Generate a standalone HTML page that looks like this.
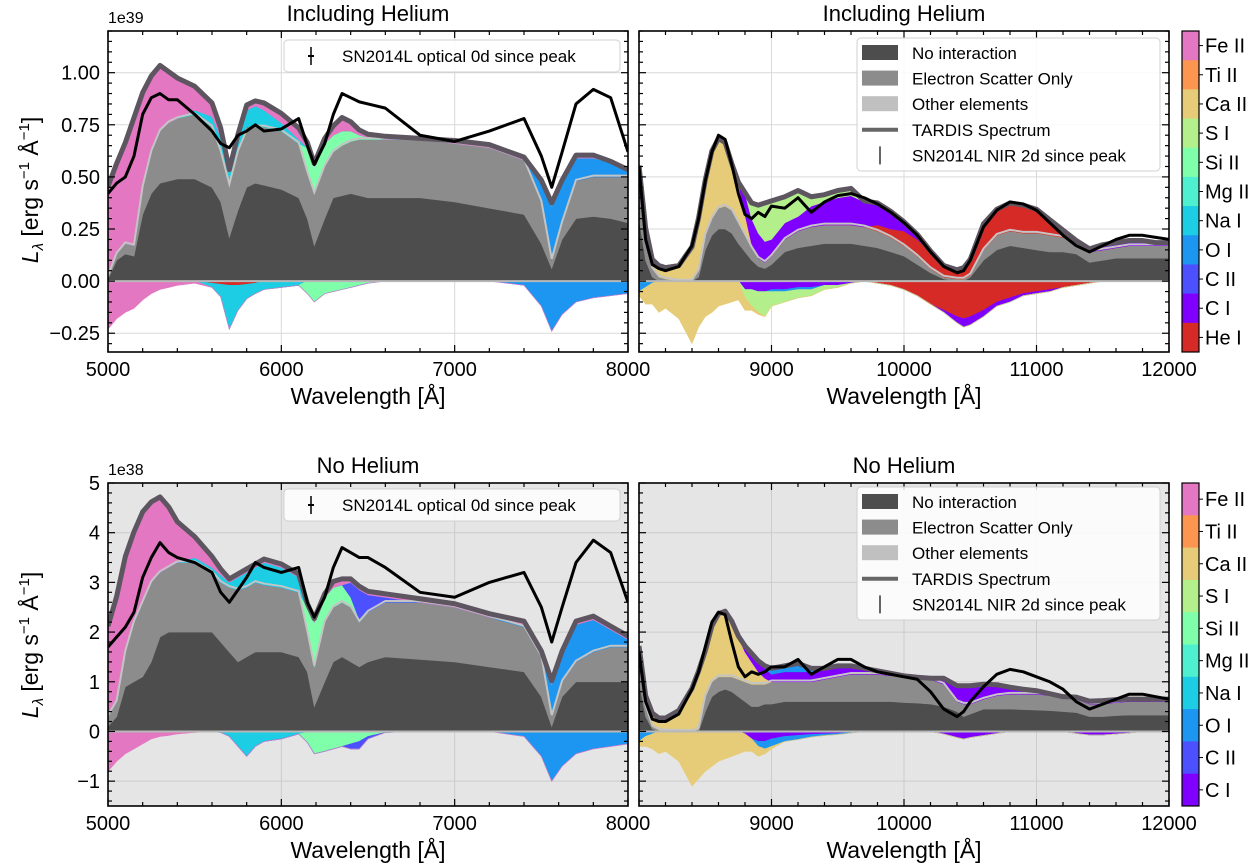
<!DOCTYPE html>
<html><head><meta charset="utf-8">
<style>
html,body{margin:0;padding:0;background:#fff;}
svg{display:block;font-family:"Liberation Sans","DejaVu Sans",sans-serif;}
</style></head>
<body>
<svg id="fig" width="1253" height="868" viewBox="0 0 1253 868" xmlns="http://www.w3.org/2000/svg"></svg>
<script>
// ---------- data ----------
const wlOpt = [5000,5050,5100,5150,5200,5250,5300,5350,5400,5500,5600,5650,5700,5750,5800,5850,5900,6000,6100,6150,6190,6250,6300,6350,6400,6450,6500,6600,6800,7000,7200,7400,7500,7560,7620,7700,7800,7900,8000];
const wlNir = [8000,8050,8100,8150,8200,8300,8400,8450,8500,8550,8600,8650,8700,8750,8800,8850,8900,8950,9000,9100,9200,9300,9400,9500,9600,9700,9800,9900,10000,10100,10200,10300,10400,10450,10500,10600,10700,10800,10900,11000,11100,11200,11300,11400,11500,11600,11700,11800,11900,12000];

// Panel A: Including Helium, optical (1e39)
const noIntA = [0.01,0.10,0.13,0.12,0.32,0.42,0.47,0.48,0.49,0.49,0.45,0.38,0.21,0.34,0.45,0.47,0.46,0.44,0.40,0.30,0.17,0.30,0.40,0.41,0.42,0.41,0.40,0.40,0.40,0.38,0.35,0.32,0.18,0.06,0.20,0.30,0.31,0.30,0.28];
const escatA = [0.01,0.03,0.05,0.05,0.13,0.20,0.25,0.28,0.29,0.31,0.29,0.24,0.25,0.28,0.27,0.27,0.28,0.28,0.26,0.22,0.25,0.25,0.22,0.24,0.25,0.27,0.28,0.28,0.28,0.28,0.29,0.26,0.20,0.04,0.08,0.18,0.19,0.20,0.22];
const heA = [0,0,0,0,0,0,0,0,0,0,0,0.02,0.03,0.02,0.02,0,0,0,0,0,0,0,0,0,0,0,0,0,0,0,0,0,0,0,0,0,0,0,0];
const oA = [0,0,0,0,0,0,0,0,0,0,0,0,0,0,0,0,0,0,0,0,0,0,0,0,0,0,0,0,0,0,0,0,0.09,0.26,0.19,0.11,0.09,0.07,0.03];
const siA = [0,0,0,0,0,0,0,0,0,0,0,0,0,0,0,0,0,0,0,0.12,0.13,0.11,0.08,0.07,0.05,0.02,0.01,0,0,0,0,0,0,0,0,0,0,0,0];
const naA = [0,0,0,0,0,0,0,0,0,0.02,0.05,0.05,0.03,0.05,0.08,0.10,0.08,0.04,0.02,0,0,0,0,0,0,0,0,0,0,0,0,0,0,0,0,0,0,0,0];
const feA = [0.43,0.43,0.48,0.61,0.45,0.36,0.31,0.24,0.19,0.11,0.06,0.04,0.01,0.01,0.02,0.02,0.03,0.04,0.05,0.02,0.01,0.02,0.04,0.06,0.04,0.02,0.01,0.01,0,0.01,0.01,0.01,0.01,0.01,0.01,0.01,0.01,0,0];
const heAbsA = [0,0,0,0,0,0,0,0,0,0,0.01,0.015,0.02,0.02,0.015,0.01,0,0,0,0,0,0,0,0,0,0,0,0,0,0,0,0,0,0,0,0,0,0,0];
const naAbsA = [0,0,0,0,0,0,0,0,0,0,0.02,0.06,0.21,0.12,0.07,0.05,0.04,0.03,0.02,0,0,0,0,0,0,0,0,0,0,0,0,0,0,0,0,0,0,0,0];
const siAbsA = [0,0,0,0,0,0,0,0,0,0,0,0,0,0,0,0,0,0,0,0.06,0.10,0.06,0.05,0.04,0.03,0.02,0.01,0,0,0,0,0,0,0,0,0,0,0,0];
const oAbsA = [0,0,0,0,0,0,0,0,0,0,0,0,0,0,0,0,0,0,0,0,0,0,0,0,0,0,0,0,0,0,0,0.02,0.12,0.24,0.16,0.10,0.08,0.07,0.06];
const feAbsA = [0.23,0.18,0.15,0.13,0.09,0.06,0.04,0.03,0.02,0.01,0,0,0,0,0,0,0,0,0,0,0,0,0,0,0,0,0,0,0,0,0,0,0,0,0,0,0,0,0];
const obsA = [0.42,0.47,0.50,0.60,0.80,0.88,0.90,0.87,0.87,0.80,0.72,0.66,0.64,0.70,0.72,0.75,0.72,0.73,0.78,0.65,0.56,0.66,0.80,0.90,0.88,0.86,0.85,0.83,0.70,0.67,0.72,0.78,0.60,0.45,0.62,0.85,0.92,0.88,0.62];

// Panel B: Including Helium, NIR (1e39)
const noIntB = [0.30,0.10,0.02,0,0,0,0,0.02,0.15,0.22,0.25,0.25,0.23,0.18,0.14,0.10,0.07,0.06,0.08,0.14,0.16,0.17,0.18,0.18,0.18,0.17,0.16,0.14,0.12,0.08,0.04,0.01,0,0,0.02,0.10,0.15,0.17,0.16,0.15,0.14,0.14,0.13,0.09,0.10,0.11,0.11,0.11,0.11,0.11];
const escatB = [0.20,0.12,0.04,0.02,0.01,0,0,0.03,0.07,0.08,0.10,0.11,0.11,0.10,0.08,0.06,0.04,0.03,0.04,0.06,0.08,0.09,0.09,0.09,0.09,0.09,0.08,0.07,0.05,0.04,0.02,0.01,0.01,0.01,0.01,0.05,0.07,0.07,0.07,0.08,0.08,0.07,0.06,0.05,0.05,0.05,0.06,0.06,0.06,0.06];
const caB = [0.03,0.02,0.04,0.05,0.05,0.07,0.16,0.25,0.26,0.32,0.33,0.30,0.22,0.19,0.10,0.02,0,0,0,0,0,0,0,0,0,0,0,0,0,0,0,0,0,0,0,0,0,0,0,0,0,0,0,0,0,0,0,0,0,0];
const heB = [0,0,0,0,0,0,0,0,0,0,0,0,0,0,0,0,0,0,0,0,0,0,0,0,0,0,0.03,0.04,0.07,0.08,0.08,0.05,0.04,0.05,0.07,0.12,0.12,0.13,0.13,0.11,0.07,0.03,0,0,0,0,0,0,0,0];
const ciB = [0,0,0,0,0,0,0,0,0,0,0,0,0,0,0.10,0.12,0.12,0.10,0.08,0.08,0.07,0.10,0.11,0.13,0.14,0.12,0.10,0.08,0.04,0.02,0,0,0,0,0,0,0,0,0,0,0,0,0,0.01,0.02,0.02,0.02,0.02,0.01,0.01];
const sB = [0,0,0,0,0,0,0,0,0,0,0,0,0,0,0,0.07,0.13,0.18,0.18,0.12,0.12,0.04,0.03,0.03,0.03,0,0,0,0,0,0,0,0,0,0,0,0,0,0,0,0,0,0,0,0,0,0,0,0,0];
const oB = [0.02,0.01,0,0,0,0,0,0,0,0,0,0,0,0,0,0,0,0,0,0,0,0,0,0,0,0,0,0,0,0,0,0,0,0,0,0,0,0,0,0,0,0,0,0,0,0,0,0,0,0];
const heAbsB = [0,0,0,0,0,0,0,0,0,0,0,0,0,0,0,0,0,0,0,0,0,0,0,0,0,0,0.01,0.02,0.04,0.07,0.11,0.14,0.17,0.18,0.17,0.14,0.10,0.08,0.06,0.05,0.04,0.03,0.02,0.01,0,0,0,0,0,0];
const ciAbsB = [0,0,0,0,0,0,0,0,0,0,0,0,0,0,0.04,0.04,0.05,0.05,0.04,0.04,0.03,0.03,0.02,0.02,0.01,0,0,0,0,0,0,0.01,0.03,0.04,0.04,0.03,0.02,0.02,0.01,0.01,0.01,0,0,0,0,0,0,0,0,0];
const oAbsB = [0.05,0.03,0.01,0,0,0,0,0,0,0,0,0,0,0,0,0,0,0,0.01,0.01,0.01,0.01,0,0,0,0,0,0,0,0,0,0,0,0,0,0,0,0,0,0,0,0,0,0,0,0,0,0,0,0];
const sAbsB = [0,0,0,0,0,0,0,0,0,0,0,0,0,0,0.04,0.08,0.10,0.12,0.07,0.05,0.04,0.03,0.02,0.01,0,0,0,0,0,0,0,0,0,0,0,0,0,0,0,0,0,0,0,0,0,0,0,0,0,0];
const caAbsB = [0.02,0.08,0.10,0.15,0.13,0.18,0.30,0.22,0.17,0.15,0.12,0.11,0.10,0.09,0.06,0.02,0.01,0,0,0,0,0,0,0,0,0,0,0,0,0,0,0,0,0,0,0,0,0,0,0,0,0,0,0,0,0,0,0,0,0];
const obsB = [0.55,0.20,0.08,0.06,0.05,0.07,0.17,0.30,0.48,0.62,0.70,0.68,0.56,0.42,0.32,0.30,0.33,0.31,0.36,0.35,0.40,0.33,0.38,0.41,0.42,0.40,0.37,0.33,0.28,0.22,0.14,0.07,0.04,0.05,0.10,0.26,0.34,0.38,0.37,0.34,0.28,0.22,0.17,0.14,0.17,0.20,0.22,0.22,0.21,0.20];

// Panel C: No Helium, optical (1e38)
const noIntC = [0.1,0.3,0.9,1.0,1.1,1.4,1.9,2.0,2.0,2.0,2.0,1.8,1.6,1.4,1.5,1.6,1.6,1.6,1.5,1.2,0.5,1.0,1.4,1.5,1.4,1.3,1.4,1.5,1.45,1.4,1.3,1.2,0.7,0.1,0.7,1.0,1.0,1.0,1.0];
const escatC = [0.2,0.3,0.7,1.2,1.5,1.6,1.3,1.3,1.4,1.4,1.2,1.2,1.3,1.45,1.4,1.4,1.35,1.3,1.3,0.8,0.8,1.2,1.1,1.1,1.1,0.9,1.0,1.1,1.15,1.1,1.0,0.9,0.8,0.2,0.3,0.4,0.6,0.7,0.7];
const oC = [0,0,0,0,0,0,0,0,0,0,0,0,0,0,0,0,0,0,0,0,0,0,0,0,0,0,0,0,0,0,0,0.05,0.05,0.65,0.55,0.75,0.65,0.35,0.15];
const siC = [0,0,0,0,0,0,0,0,0,0,0,0,0,0,0,0,0,0,0,0.5,0.9,0.5,0.4,0.35,0.2,0.05,0,0,0,0,0,0,0,0,0,0,0,0,0];
const c2C = [0,0,0,0,0,0,0,0,0,0,0,0,0,0,0,0,0,0,0,0,0,0,0,0,0.3,0.6,0.35,0.1,0,0,0,0,0,0,0,0,0,0,0];
const naC = [0,0,0,0,0,0,0,0,0,0.1,0.1,0.15,0.1,0.25,0.3,0.3,0.45,0.4,0.3,0,0,0,0,0,0,0,0,0,0,0,0,0,0,0,0,0,0,0,0];
const feC = [1.8,2.1,1.9,1.8,1.8,1.6,1.5,1.2,0.8,0.4,0.2,0.1,0.05,0.05,0.05,0.05,0.05,0.05,0.05,0.05,0.05,0.05,0.1,0.1,0.05,0.05,0.05,0.05,0.05,0.05,0.05,0.05,0.05,0.05,0.05,0.05,0.05,0.05,0.05];
const naAbsC = [0,0,0,0,0,0,0,0,0,0,0,0.02,0.1,0.3,0.5,0.3,0.2,0.15,0.05,0.02,0,0,0,0,0,0,0,0,0,0,0,0,0,0,0,0,0,0,0];
const siAbsC = [0,0,0,0,0,0,0,0,0,0,0,0,0,0,0,0,0,0,0,0.2,0.45,0.4,0.35,0.3,0.25,0.2,0.1,0.02,0,0,0,0,0,0,0,0,0,0,0];
const c2AbsC = [0,0,0,0,0,0,0,0,0,0,0,0,0,0,0,0,0,0,0,0,0,0,0,0,0.1,0.15,0.05,0,0,0,0,0,0,0,0,0,0,0,0];
const oAbsC = [0,0,0,0,0,0,0,0,0,0,0,0,0,0,0,0,0,0,0,0,0,0,0,0,0,0,0,0,0,0,0,0.1,0.5,1.0,0.7,0.45,0.35,0.3,0.25];
const feAbsC = [0.8,0.6,0.45,0.35,0.25,0.15,0.1,0.08,0.05,0.02,0,0,0,0,0,0,0,0,0,0,0,0,0,0,0,0,0,0,0,0,0,0,0,0,0,0,0,0,0];
const obsC = [1.7,1.9,2.1,2.4,3.1,3.5,3.8,3.6,3.5,3.4,3.2,2.8,2.6,2.85,3.1,3.4,3.3,3.2,3.3,2.6,2.3,2.7,3.3,3.7,3.6,3.5,3.5,3.3,2.8,2.7,3.0,3.2,2.5,1.8,2.5,3.4,3.85,3.6,2.6];

// Panel D: No Helium, NIR (1e38)
const noIntD = [1.0,0.3,0.05,0,0,0,0,0,0.4,0.7,0.8,0.85,0.8,0.7,0.6,0.5,0.5,0.55,0.55,0.6,0.6,0.6,0.6,0.6,0.6,0.6,0.6,0.6,0.58,0.57,0.55,0.5,0.4,0.3,0.35,0.45,0.45,0.45,0.44,0.43,0.42,0.4,0.38,0.3,0.3,0.32,0.33,0.33,0.33,0.33];
const escatD = [0.6,0.2,0.05,0.03,0.01,0,0,0.05,0.3,0.3,0.3,0.25,0.3,0.35,0.4,0.45,0.45,0.4,0.45,0.4,0.4,0.4,0.45,0.5,0.55,0.55,0.55,0.52,0.52,0.5,0.5,0.45,0.2,0.25,0.2,0.2,0.27,0.3,0.31,0.32,0.3,0.28,0.27,0.25,0.25,0.26,0.27,0.27,0.27,0.27];
const caD = [0.05,0.15,0.25,0.22,0.24,0.4,0.85,1.15,0.9,1.1,1.25,1.3,1.1,0.85,0.6,0.45,0.25,0.12,0,0,0,0,0,0,0,0,0,0,0,0,0,0,0,0,0,0,0,0,0,0,0,0,0,0,0,0,0,0,0,0];
const ciD = [0,0,0,0,0,0,0,0,0,0,0,0,0,0,0.1,0.15,0.2,0.2,0.15,0.2,0.2,0.2,0.2,0.2,0.15,0.1,0.05,0.03,0,0,0,0.1,0.3,0.35,0.35,0.28,0.2,0.12,0.08,0.05,0.02,0,0.02,0.04,0.05,0.04,0.03,0.03,0.03,0.03];
const oD = [0.05,0.05,0,0,0,0,0,0,0,0,0,0,0,0,0,0,0,0.03,0.1,0.1,0.15,0.05,0,0,0,0,0,0,0,0,0,0,0,0,0,0,0,0,0,0,0,0,0,0,0,0,0,0,0,0];
const ciAbsD = [0,0,0,0,0,0,0,0,0,0,0,0,0,0,0.05,0.15,0.2,0.2,0.15,0.1,0.08,0.06,0.05,0.04,0.02,0,0,0,0,0,0,0.05,0.12,0.15,0.12,0.08,0.04,0,0,0,0,0,0.04,0.07,0.07,0.05,0.03,0,0,0];
const oAbsD = [0.2,0.1,0.05,0,0,0,0,0,0,0,0,0,0,0,0,0,0.1,0.15,0.15,0.1,0.08,0.05,0.03,0.02,0.01,0,0,0,0,0,0,0,0,0,0,0,0,0,0,0,0,0,0,0,0,0,0,0,0,0];
const caAbsD = [0.1,0.2,0.3,0.45,0.4,0.6,1.1,0.95,0.8,0.7,0.6,0.55,0.5,0.45,0.35,0.25,0.2,0.1,0.05,0,0,0,0,0,0,0,0,0,0,0,0,0,0,0,0,0,0,0,0,0,0,0,0,0,0,0,0,0,0,0];
const obsD = [1.6,0.6,0.25,0.2,0.2,0.35,0.85,1.2,1.7,2.2,2.4,2.35,1.8,1.3,1.1,1.2,1.15,1.2,1.3,1.3,1.45,1.15,1.3,1.45,1.45,1.3,1.2,1.15,1.1,1.05,0.8,0.45,0.3,0.4,0.6,0.9,1.15,1.25,1.2,1.1,1.0,0.85,0.6,0.45,0.55,0.65,0.75,0.75,0.7,0.65];

const yTicksTop = [-0.25,0,0.25,0.5,0.75,1.0];
const yTickLabelsTop = ["\u22120.25","0.00","0.25","0.50","0.75","1.00"];
const yTicksBot = [-1,0,1,2,3,4,5];
const yTickLabelsBot = ["\u22121","0","1","2","3","4","5"];
const xTicksOpt = [5000,6000,7000,8000];
const xTicksNir = [9000,10000,11000,12000];
const cbarTop = ["Fe II","Ti II","Ca II","S I","Si II","Mg II","Na I","O I","C II","C I","He I"];
const cbarBot = ["Fe II","Ti II","Ca II","S I","Si II","Mg II","Na I","O I","C II","C I"];

// ---------- rendering ----------
const COL = {"Fe II":"#e377c2","Ti II":"#fb9550","Ca II":"#e6cc78","S I":"#b3f08c","Si II":"#80ffaa","Mg II":"#4ff0d0","Na I":"#1ccde3","O I":"#1c96f0","C II":"#4d50ff","C I":"#8000ff","He I":"#d62a27"};
const NS="http://www.w3.org/2000/svg";
const svg=document.getElementById('fig');
function el(tag,attrs,parent){const e=document.createElementNS(NS,tag);for(const k in attrs)e.setAttribute(k,attrs[k]);(parent||svg).appendChild(e);return e;}
function txt(s,attrs,parent){const t=el('text',attrs,parent);t.textContent=s;return t;}

function drawPanel(p){
  const g=el('g',{});
  
  
  const X=w=>p.x0+(w-p.w0)/(p.w1-p.w0)*(p.x1-p.x0);
  const Y=v=>p.yTop+(p.ymax-v)/(p.ymax-p.ymin)*(p.yBot-p.yTop);
  const bg=el('rect',{x:p.x0,y:p.yTop,width:p.x1-p.x0,height:p.yBot-p.yTop,fill:p.bg},g);
  
  
  const cid='clip-'+p.name;
  const cp=el('clipPath',{id:cid},g);el('rect',{x:p.x0,y:p.yTop,width:p.x1-p.x0,height:p.yBot-p.yTop},cp);
  // grid
  const gridC=p.bg==='#ffffff'?'#d9d9d9':'#cccccc';
  p.xt.forEach(w=>{if(w>p.w0&&w<p.w1)el('line',{x1:X(w),x2:X(w),y1:p.yTop,y2:p.yBot,stroke:gridC,'stroke-width':1},g);});
  p.yt.forEach(v=>el('line',{x1:p.x0,x2:p.x1,y1:Y(v),y2:Y(v),stroke:gridC,'stroke-width':1},g));
  const pg=el('g',{'clip-path':'url(#'+cid+')'},g);
  const wl=p.wl;
  function band(lo,hi,fill,name){
    let d='M'+wl.map((w,i)=>X(w).toFixed(1)+','+Y(hi[i]).toFixed(1)).join('L');
    for(let i=wl.length-1;i>=0;i--)d+='L'+X(wl[i]).toFixed(1)+','+Y(lo[i]).toFixed(1);
    const a=el('path',{d:d+'Z',fill:fill,stroke:fill,'stroke-width':0.6},pg);
    
    
  }
  const zero=wl.map(()=>0);
  let cur=p.noInt.slice();
  band(zero,cur,'#4d4d4d','no-interaction-area');
  let nxt=cur.map((v,i)=>v+p.escat[i]);
  band(cur,nxt,'#8c8c8c','electron-scatter-area');cur=nxt;
  const greyTop=cur.slice();
  p.em.forEach(([arr,nm])=>{const n2=cur.map((v,i)=>v+arr[i]);band(cur,n2,COL[nm],'emission-'+nm.toLowerCase().replace(' ','-'));cur=n2;});
  let neg=zero.slice();
  p.ab.forEach(([arr,nm])=>{const n2=neg.map((v,i)=>v-arr[i]);band(n2,neg,COL[nm],'absorption-'+nm.toLowerCase().replace(' ','-'));neg=n2;});
  const oth=el('polyline',{points:wl.map((w,i)=>X(w)+','+Y(greyTop[i]+0.004*(p.ymax-p.ymin))).join(' '),fill:'none',stroke:'#c4c4c4','stroke-width':2},pg);
  
  
  el('line',{x1:p.x0,x2:p.x1,y1:Y(0),y2:Y(0),stroke:'#b8b8b8','stroke-width':2},pg);
  const tl=el('polyline',{points:wl.map((w,i)=>X(w)+','+(Y(cur[i])-1)).join(' '),fill:'none',stroke:'#5d5560','stroke-width':5,'stroke-linejoin':'round'},pg);
  
  
  const ol=el('polyline',{points:wl.map((w,i)=>X(w)+','+Y(p.obs[i])).join(' '),fill:'none',stroke:'#000','stroke-width':3,'stroke-linejoin':'round'},pg);
  
  
  // frame
  el('rect',{x:p.x0,y:p.yTop,width:p.x1-p.x0,height:p.yBot-p.yTop,fill:'none',stroke:'#000','stroke-width':1.6},g);
  // ticks
  for(let w=p.w0;w<=p.w1;w+=200){const L=(w%1000===0)?7:4;const x=X(w);
    el('line',{x1:x,x2:x,y1:p.yBot,y2:p.yBot-L,stroke:'#000','stroke-width':1.2},g);
    el('line',{x1:x,x2:x,y1:p.yTop,y2:p.yTop+L,stroke:'#000','stroke-width':1.2},g);}
  const mstep=p.minor;
  for(let v=Math.ceil(p.ymin/mstep)*mstep;v<=p.ymax+1e-9;v+=mstep){const isMaj=p.yt.some(t=>Math.abs(t-v)<1e-6);const L=isMaj?7:4;const y=Y(v);
    el('line',{x1:p.x0,x2:p.x0+L,y1:y,y2:y,stroke:'#000','stroke-width':1.2},g);
    el('line',{x1:p.x1,x2:p.x1-L,y1:y,y2:y,stroke:'#000','stroke-width':1.2},g);}
  p.xt.forEach(w=>{const t=txt(String(w),{x:X(w),y:p.yBot+24,'font-size':20,'text-anchor':'middle',fill:'#000'},g);
    
    });
  if(p.ylab){p.yt.forEach((v,i)=>{const t=txt(p.ylab[i],{x:p.x0-8,y:Y(v)+7,'font-size':20,'text-anchor':'end',fill:'#000'},g);
    
    });
    const off=txt(p.offset,{x:p.x0,y:p.yTop-8,'font-size':16,fill:'#000'},g);
    
    }
  const ti=txt(p.title,{x:(p.x0+p.x1)/2,y:p.yTop-10,'font-size':22,'text-anchor':'middle',fill:'#000'},g);
  
  
  const xl=txt('Wavelength [Å]',{x:(p.x0+p.x1)/2,y:p.yBot+52,'font-size':23,'text-anchor':'middle',fill:'#000'},g);
  
  
  return {X,Y};
}

const panels=[
 {name:'panel-helium-optical',x0:108,x1:628,w0:5000,w1:8000,yTop:31,yBot:352,ymin:-0.34,ymax:1.2,minor:0.05,bg:'#ffffff',wl:wlOpt,
  noInt:noIntA,escat:escatA,em:[[heA,'He I'],[oA,'O I'],[siA,'Si II'],[naA,'Na I'],[feA,'Fe II']],
  ab:[[heAbsA,'He I'],[naAbsA,'Na I'],[siAbsA,'Si II'],[oAbsA,'O I'],[feAbsA,'Fe II']],obs:obsA,xt:xTicksOpt,yt:yTicksTop,ylab:yTickLabelsTop,offset:'1e39',title:'Including Helium'},
 {name:'panel-helium-nir',x0:639,x1:1169,w0:8000,w1:12000,yTop:31,yBot:352,ymin:-0.34,ymax:1.2,minor:0.05,bg:'#ffffff',wl:wlNir,
  noInt:noIntB,escat:escatB,em:[[caB,'Ca II'],[heB,'He I'],[ciB,'C I'],[sB,'S I'],[oB,'O I']],
  ab:[[heAbsB,'He I'],[ciAbsB,'C I'],[oAbsB,'O I'],[sAbsB,'S I'],[caAbsB,'Ca II']],obs:obsB,xt:xTicksNir,yt:yTicksTop,ylab:null,title:'Including Helium'},
 {name:'panel-nohelium-optical',x0:108,x1:628,w0:5000,w1:8000,yTop:483,yBot:806,ymin:-1.5,ymax:5,minor:0.2,bg:'#e5e5e5',wl:wlOpt,
  noInt:noIntC,escat:escatC,em:[[oC,'O I'],[siC,'Si II'],[c2C,'C II'],[naC,'Na I'],[feC,'Fe II']],
  ab:[[naAbsC,'Na I'],[siAbsC,'Si II'],[c2AbsC,'C II'],[oAbsC,'O I'],[feAbsC,'Fe II']],obs:obsC,xt:xTicksOpt,yt:yTicksBot,ylab:yTickLabelsBot,offset:'1e38',title:'No Helium'},
 {name:'panel-nohelium-nir',x0:639,x1:1169,w0:8000,w1:12000,yTop:483,yBot:806,ymin:-1.5,ymax:5,minor:0.2,bg:'#e5e5e5',wl:wlNir,
  noInt:noIntD,escat:escatD,em:[[caD,'Ca II'],[ciD,'C I'],[oD,'O I']],
  ab:[[ciAbsD,'C I'],[oAbsD,'O I'],[caAbsD,'Ca II']],obs:obsD,xt:xTicksNir,yt:yTicksBot,ylab:null,title:'No Helium'}
];
panels.forEach(drawPanel);

// y-axis titles
[[190],[645]].forEach(([cy])=>{
  const t=el('text',{x:0,y:0,'font-size':23,'text-anchor':'middle',fill:'#000',transform:'translate(38,'+cy+') rotate(-90)'});
  
  
  const a=el('tspan',{'font-style':'italic'},t);a.textContent='L';
  const b=el('tspan',{'font-style':'italic','font-size':15,dy:5},t);b.textContent='λ';
  const c=el('tspan',{dy:-5},t);c.textContent=' [erg s';
  const d=el('tspan',{'font-size':15,dy:-9},t);d.textContent='−1';
  const e=el('tspan',{dy:9},t);e.textContent=' Å';
  const f=el('tspan',{'font-size':15,dy:-9},t);f.textContent='−1';
  const h=el('tspan',{dy:9},t);h.textContent=']';
});

// legends
function obsLegend(y){
  const g=el('g',{});
  
  
  el('rect',{x:284,y:y,width:336,height:32,rx:4,fill:'#fff','fill-opacity':0.85,stroke:'#d0d0d0'},g);
  el('line',{x1:311,x2:311,y1:y+7,y2:y+25,stroke:'#000','stroke-width':1.5},g);
  el('line',{x1:308,x2:314,y1:y+16,y2:y+16,stroke:'#000','stroke-width':2},g);
  txt('SN2014L optical 0d since peak',{x:342,y:y+22,'font-size':17,fill:'#000'},g);
}
obsLegend(40);obsLegend(489);
function bigLegend(y){
  const g=el('g',{});
  
  
  el('rect',{x:857,y:y,width:303,height:133,rx:4,fill:'#fff','fill-opacity':0.85,stroke:'#d0d0d0'},g);
  const rows=[['No interaction','#4d4d4d','box'],['Electron Scatter Only','#8c8c8c','box'],['Other elements','#c0c0c0','box'],['TARDIS Spectrum','#666','line'],['SN2014L NIR 2d since peak','#000','err']];
  rows.forEach((r,i)=>{const cy=y+14+i*25.6;
    const it=el('g',{},g);
    
    
    if(r[2]==='box')el('rect',{x:862,y:cy-7,width:36,height:15,fill:r[1]},it);
    else if(r[2]==='line')el('line',{x1:862,x2:898,y1:cy+1,y2:cy+1,stroke:r[1],'stroke-width':4},it);
    else{el('line',{x1:880,x2:880,y1:cy-8,y2:cy+10,stroke:'#000','stroke-width':1.2},it);}
    txt(r[0],{x:912,y:cy+7,'font-size':17,fill:'#000'},it);});
}
bigLegend(38);bigLegend(487);

// colorbars
function cbar(y0,y1,labels){
  const g=el('g',{});
  
  
  const h=(y1-y0)/labels.length;
  labels.forEach((l,i)=>{
    const r=el('rect',{x:1182,y:y0+i*h,width:17,height:h+0.5,fill:COL[l]},g);
    
    
    el('line',{x1:1199,x2:1203,y1:y0+(i+0.5)*h,y2:y0+(i+0.5)*h,stroke:'#000','stroke-width':1},g);
    const t=txt(l,{x:1205,y:y0+(i+0.5)*h+7,'font-size':20,fill:'#000'},g);
    
    
  });
  el('rect',{x:1182,y:y0,width:17,height:y1-y0,fill:'none',stroke:'#000','stroke-width':1.2},g);
}
cbar(31,352,cbarTop);
cbar(483,806,cbarBot);
</script>
</body></html>
